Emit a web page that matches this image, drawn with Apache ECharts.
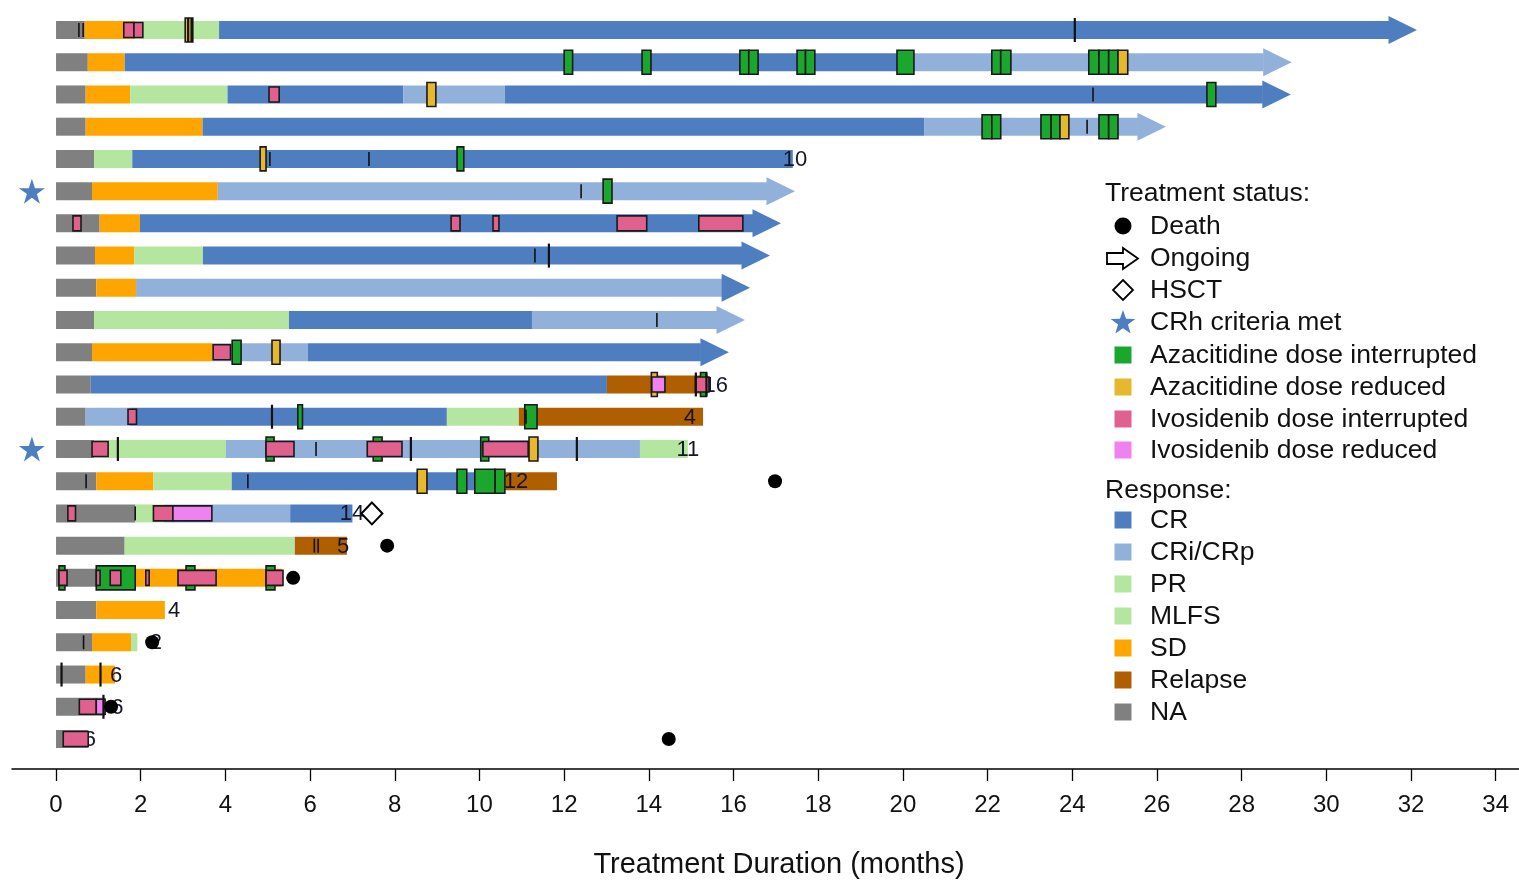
<!DOCTYPE html>
<html>
<head>
<meta charset="utf-8">
<title>Treatment Duration swimmer plot</title>
<script src="https://cdn.jsdelivr.net/npm/echarts@6/dist/echarts.min.js"></script>
<style>
  html, body { margin: 0; padding: 0; background: #ffffff; }
  #chart { width: 1519px; height: 880px; }
</style>
</head>
<body>
<div id="chart"></div>
<script>
// ---- Data (months on treatment; rows numbered top to bottom) ----
const xTickValues = [0, 2, 4, 6, 8, 10, 12, 14, 16, 18, 20, 22, 24, 26, 28, 30, 32, 34];

// [row, start, end, response]
const responseSegments = [
  [1, 0, 0.68, 'NA'], [1, 0.68, 1.84, 'SD'], [1, 1.84, 3.85, 'PR'], [1, 3.85, 31.48, 'CR'],
  [2, 0, 0.75, 'NA'], [2, 0.75, 1.62, 'SD'], [2, 1.62, 20.28, 'CR'], [2, 20.28, 28.52, 'CRi/CRp'],
  [3, 0, 0.7, 'NA'], [3, 0.7, 1.75, 'SD'], [3, 1.75, 4.05, 'PR'], [3, 4.05, 8.2, 'CR'], [3, 8.2, 10.6, 'CRi/CRp'], [3, 10.6, 28.5, 'CR'],
  [4, 0, 0.7, 'NA'], [4, 0.7, 3.46, 'SD'], [4, 3.46, 20.5, 'CR'], [4, 20.5, 25.55, 'CRi/CRp'],
  [5, 0, 0.9, 'NA'], [5, 0.9, 1.8, 'PR'], [5, 1.8, 17.4, 'CR'],
  [6, 0, 0.85, 'NA'], [6, 0.85, 3.82, 'SD'], [6, 3.82, 16.79, 'CRi/CRp'],
  [7, 0, 1.03, 'NA'], [7, 1.03, 1.98, 'SD'], [7, 1.98, 16.46, 'CR'],
  [8, 0, 0.92, 'NA'], [8, 0.92, 1.85, 'SD'], [8, 1.85, 3.47, 'PR'], [8, 3.47, 16.2, 'CR'],
  [9, 0, 0.95, 'NA'], [9, 0.95, 1.89, 'SD'], [9, 1.89, 15.73, 'CRi/CRp'],
  [10, 0, 0.9, 'NA'], [10, 0.9, 5.5, 'MLFS'], [10, 5.5, 11.24, 'CR'], [10, 11.24, 15.61, 'CRi/CRp'],
  [11, 0, 0.85, 'NA'], [11, 0.85, 3.7, 'SD'], [11, 3.7, 5.95, 'CRi/CRp'], [11, 5.95, 15.23, 'CR'],
  [12, 0, 0.82, 'NA'], [12, 0.82, 13.01, 'CR'], [12, 13.01, 15.4, 'Relapse'],
  [13, 0, 0.7, 'NA'], [13, 0.7, 1.73, 'CRi/CRp'], [13, 1.73, 9.23, 'CR'], [13, 9.23, 10.93, 'PR'], [13, 10.93, 15.28, 'Relapse'],
  [14, 0, 0.9, 'NA'], [14, 0.9, 4.01, 'PR'], [14, 4.01, 13.79, 'CRi/CRp'], [14, 13.79, 14.92, 'PR'],
  [15, 0, 0.95, 'NA'], [15, 0.95, 2.3, 'SD'], [15, 2.3, 4.15, 'PR'], [15, 4.15, 10.6, 'CR'], [15, 10.6, 11.83, 'Relapse'],
  [16, 0, 1.87, 'NA'], [16, 1.87, 2.55, 'MLFS'], [16, 2.55, 5.53, 'CRi/CRp'], [16, 5.53, 7.0, 'CR'],
  [17, 0, 1.62, 'NA'], [17, 1.62, 5.64, 'PR'], [17, 5.64, 6.87, 'Relapse'],
  [18, 0, 0.95, 'NA'], [18, 0.95, 5.33, 'SD'],
  [19, 0, 0.95, 'NA'], [19, 0.95, 2.57, 'SD'],
  [20, 0, 0.85, 'NA'], [20, 0.85, 1.77, 'SD'], [20, 1.77, 1.92, 'PR'],
  [21, 0, 0.7, 'NA'], [21, 0.7, 1.39, 'SD'],
  [22, 0, 1.16, 'NA'],
  [23, 0, 0.76, 'NA']
];

// Ongoing treatment: [row, end of bar, response shown by the arrow head]
const ongoing = [
  [1, 31.48, 'CR'], [2, 28.52, 'CRi/CRp'], [3, 28.5, 'CR'], [4, 25.55, 'CRi/CRp'],
  [6, 16.79, 'CRi/CRp'], [7, 16.46, 'CR'], [8, 16.2, 'CR'], [9, 15.73, 'CR'],
  [10, 15.61, 'CRi/CRp'], [11, 15.23, 'CR']
];

// Azacitidine dose changes: [row, start, end, kind]
const azacitidineEvents = [
  [1, 3.05, 3.23, 'reduced'],
  [2, 12.0, 12.2, 'interrupted'], [2, 13.84, 14.05, 'interrupted'], [2, 16.15, 16.36, 'interrupted'],
  [2, 16.36, 16.58, 'interrupted'], [2, 17.5, 17.7, 'interrupted'], [2, 17.7, 17.92, 'interrupted'],
  [2, 19.86, 20.26, 'interrupted'], [2, 22.1, 22.31, 'interrupted'], [2, 22.31, 22.55, 'interrupted'],
  [2, 24.39, 24.63, 'interrupted'], [2, 24.63, 24.86, 'interrupted'], [2, 24.86, 25.08, 'interrupted'],
  [2, 25.08, 25.31, 'reduced'],
  [3, 8.76, 8.97, 'reduced'], [3, 27.18, 27.39, 'interrupted'],
  [4, 21.87, 22.1, 'interrupted'], [4, 22.1, 22.31, 'interrupted'], [4, 23.26, 23.5, 'interrupted'],
  [4, 23.5, 23.71, 'interrupted'], [4, 23.71, 23.92, 'reduced'], [4, 24.63, 24.86, 'interrupted'],
  [4, 24.86, 25.08, 'interrupted'],
  [5, 4.82, 4.96, 'reduced'], [5, 9.47, 9.63, 'interrupted'],
  [6, 12.92, 13.13, 'interrupted'],
  [11, 4.16, 4.37, 'interrupted'], [11, 5.1, 5.29, 'reduced'],
  [12, 14.06, 14.2, 'reduced'], [12, 15.22, 15.36, 'interrupted'],
  [13, 5.71, 5.82, 'interrupted'], [13, 11.07, 11.36, 'interrupted'],
  [14, 4.96, 5.15, 'interrupted'], [14, 7.49, 7.7, 'interrupted'], [14, 10.03, 10.22, 'interrupted'],
  [14, 11.17, 11.38, 'reduced'],
  [15, 8.53, 8.76, 'reduced'], [15, 9.47, 9.7, 'interrupted'], [15, 9.89, 10.37, 'interrupted'],
  [15, 10.37, 10.6, 'interrupted'],
  [18, 0.07, 0.21, 'interrupted'], [18, 0.95, 1.87, 'interrupted'], [18, 3.07, 3.28, 'interrupted'],
  [18, 4.96, 5.17, 'interrupted']
];

// Ivosidenib dose changes: [row, start, end, kind]
const ivosidenibEvents = [
  [1, 1.6, 1.84, 'interrupted'], [1, 1.84, 2.05, 'interrupted'],
  [3, 5.03, 5.27, 'interrupted'],
  [7, 0.4, 0.59, 'interrupted'], [7, 9.33, 9.54, 'interrupted'], [7, 10.32, 10.46, 'interrupted'],
  [7, 13.25, 13.95, 'interrupted'], [7, 15.18, 16.22, 'interrupted'],
  [11, 3.71, 4.12, 'interrupted'],
  [12, 14.07, 14.38, 'reduced'], [12, 15.1, 15.42, 'interrupted'],
  [13, 1.7, 1.9, 'interrupted'],
  [14, 0.85, 1.23, 'interrupted'], [14, 4.96, 5.62, 'interrupted'], [14, 7.35, 8.17, 'interrupted'],
  [14, 10.08, 11.15, 'interrupted'],
  [16, 0.28, 0.46, 'interrupted'], [16, 2.3, 2.76, 'interrupted'], [16, 2.76, 3.68, 'reduced'],
  [18, 0.07, 0.26, 'interrupted'], [18, 0.95, 1.04, 'interrupted'], [18, 1.28, 1.53, 'interrupted'],
  [18, 2.12, 2.2, 'interrupted'], [18, 2.88, 3.78, 'interrupted'], [18, 4.96, 5.36, 'interrupted'],
  [22, 0.55, 0.95, 'interrupted'], [22, 0.95, 1.16, 'reduced'],
  [23, 0.17, 0.76, 'interrupted']
];

// Vertical event ticks: [row, month, 'long' | 'short']
const eventTicks = [
  [1, 0.54, 'short'], [1, 0.64, 'short'], [1, 3.12, 'long'], [1, 3.2, 'long'], [1, 24.06, 'long'],
  [3, 24.49, 'short'], [4, 24.35, 'short'],
  [5, 5.05, 'short'], [5, 7.39, 'short'],
  [6, 12.4, 'short'],
  [8, 11.31, 'short'], [8, 11.64, 'long'],
  [10, 14.19, 'short'],
  [12, 15.11, 'long'], [12, 15.36, 'long'],
  [13, 5.1, 'long'], [13, 11.1, 'short'],
  [14, 1.46, 'long'], [14, 6.14, 'short'], [14, 8.38, 'long'], [14, 12.3, 'long'],
  [15, 0.71, 'short'], [15, 4.53, 'short'],
  [16, 1.87, 'short'],
  [17, 6.1, 'short'], [17, 6.19, 'short'],
  [20, 0.65, 'short'],
  [21, 0.13, 'long'], [21, 1.05, 'long'],
  [22, 1.12, 'long']
];

// Death: [month, row]
const deaths = [[16.98, 15], [7.82, 17], [5.6, 18], [2.27, 20], [1.3, 22], [14.47, 23]];
// HSCT: [month, row]
const hsct = [[7.46, 16]];
// Rows meeting CRh criteria
const crhRows = [6, 14];
// Numbers written at the end of bars: [row, month, text]
const endLabels = [
  [5, 17.45, '10'], [12, 15.58, '16'], [13, 14.97, '4'], [14, 14.92, '11'], [15, 10.86, '12'],
  [16, 6.99, '14'], [17, 6.78, '5'], [19, 2.79, '4'], [20, 2.36, '2'], [21, 1.42, '6'],
  [22, 1.45, '6'], [23, 0.8, '6']
];

// ---- Styles ----
const responseColors = {
  'CR': '#4e7ec0',
  'CRi/CRp': '#92b1da',
  'PR': '#b4e6a0',
  'MLFS': '#b4e6a0',
  'SD': '#ffa500',
  'Relapse': '#b05f00',
  'NA': '#808080'
};
const azaColors = { interrupted: '#1ba72e', reduced: '#e6b82e' };
const ivoColors = { interrupted: '#e0608e', reduced: '#ee82ee' };
const STAR_BLUE = '#4e7ec0';
const FONT = '"Liberation Sans", Arial, Helvetica, sans-serif';
const BAR_H = 18, AZA_H = 24, IVO_H = 15, TICK_LONG = 24, TICK_SHORT = 14;
const HEAD_LEN = 28, HEAD_H = 28;
const STAR_X = -0.57;
const STAR_PATH = 'path://M50,2 L61.2,36.2 L97.6,36.2 L68.2,57.6 L79.4,91.8 L50,70.6 L20.6,91.8 L31.8,57.6 L2.4,36.2 L38.8,36.2 Z';

// Five-pointed star outline centred on (cx, cy)
function starPoints(cx, cy, rOuter, rInner) {
  const pts = [];
  for (let i = 0; i < 10; i++) {
    const r = i % 2 === 0 ? rOuter : rInner;
    const ang = -Math.PI / 2 + i * Math.PI / 5;
    pts.push([cx + r * Math.cos(ang), cy + r * Math.sin(ang)]);
  }
  return pts;
}

function segRender(params, api) {
  const d = responseSegments[params.dataIndex];
  const a = api.coord([d[1], d[0]]);
  const b = api.coord([d[2], d[0]]);
  return {
    type: 'rect',
    shape: { x: a[0], y: a[1] - BAR_H / 2, width: b[0] - a[0], height: BAR_H },
    style: { fill: responseColors[d[3]] }
  };
}

function arrowRender(params, api) {
  const d = ongoing[params.dataIndex];
  const p = api.coord([d[1], d[0]]);
  return {
    type: 'polygon',
    shape: { points: [[p[0] - 0.5, p[1] - HEAD_H / 2], [p[0] + HEAD_LEN, p[1]], [p[0] - 0.5, p[1] + HEAD_H / 2]] },
    style: { fill: responseColors[d[2]] }
  };
}

function eventRender(list, colors, h) {
  return function (params, api) {
    const d = list[params.dataIndex];
    const a = api.coord([d[1], d[0]]);
    const b = api.coord([d[2], d[0]]);
    return {
      type: 'rect',
      shape: { x: a[0], y: a[1] - h / 2, width: b[0] - a[0], height: h },
      style: { fill: colors[d[3]], stroke: '#1a1a1a', lineWidth: 1.6 }
    };
  };
}

function tickRender(params, api) {
  const d = eventTicks[params.dataIndex];
  const p = api.coord([d[1], d[0]]);
  const h = d[2] === 'long' ? TICK_LONG : TICK_SHORT;
  return {
    type: 'line',
    shape: { x1: p[0], y1: p[1] - h / 2, x2: p[0], y2: p[1] + h / 2 },
    style: { stroke: '#111111', lineWidth: d[2] === 'long' ? 2.2 : 1.6 }
  };
}

function labelRender(params, api) {
  const d = endLabels[params.dataIndex];
  const p = api.coord([d[1], d[0]]);
  return {
    type: 'text',
    x: p[0], y: p[1] + 1,
    style: { text: d[2], fill: '#15152a', font: '22px ' + FONT, align: 'center', verticalAlign: 'middle' }
  };
}

const chart = echarts.init(document.getElementById('chart'), null, { renderer: 'canvas' });

// ---- Legend drawn as graphic elements ----
const LEG_SYM_X = 1123, LEG_TEXT_X = 1150;
const legendGraphics = [];
function legText(x, y, t) {
  legendGraphics.push({ type: 'text', x: x, y: y, style: { text: t, fill: '#111111', font: '26.5px ' + FONT, align: 'left', verticalAlign: 'middle' } });
}
function legSquare(y, color) {
  legendGraphics.push({ type: 'rect', shape: { x: LEG_SYM_X - 8.5, y: y - 8.5, width: 17, height: 17 }, style: { fill: color } });
}
legText(1105, 194, 'Treatment status:');
legendGraphics.push({ type: 'circle', shape: { cx: LEG_SYM_X, cy: 226, r: 8.5 }, style: { fill: '#000000' } });
legText(LEG_TEXT_X, 227, 'Death');
legendGraphics.push({
  type: 'polygon',
  shape: { points: [[1107, 253], [1123, 253], [1123, 248], [1138, 258.5], [1123, 269], [1123, 264], [1107, 264]] },
  style: { fill: '#ffffff', stroke: '#000000', lineWidth: 1.8 }
});
legText(LEG_TEXT_X, 259, 'Ongoing');
legendGraphics.push({
  type: 'polygon',
  shape: { points: [[LEG_SYM_X, 280], [LEG_SYM_X + 10, 290], [LEG_SYM_X, 300], [LEG_SYM_X - 10, 290]] },
  style: { fill: '#ffffff', stroke: '#000000', lineWidth: 1.8 }
});
legText(LEG_TEXT_X, 291, 'HSCT');
legendGraphics.push({
  type: 'polygon',
  shape: { points: starPoints(LEG_SYM_X, 323, 13, 5.2) },
  style: { fill: STAR_BLUE }
});
legText(LEG_TEXT_X, 323, 'CRh criteria met');
const statusItems = [
  [355, azaColors.interrupted, 'Azacitidine dose interrupted'],
  [387, azaColors.reduced, 'Azacitidine dose reduced'],
  [419, ivoColors.interrupted, 'Ivosidenib dose interrupted'],
  [450, ivoColors.reduced, 'Ivosidenib dose reduced']
];
statusItems.forEach(function (it) { legSquare(it[0], it[1]); legText(LEG_TEXT_X, it[0] + 0.5, it[2]); });
legText(1105, 491, 'Response:');
const responseItems = [
  [520, 'CR', 'CR'], [552, 'CRi/CRp', 'CRi/CRp'], [584, 'PR', 'PR'], [616, 'MLFS', 'MLFS'],
  [648, 'SD', 'SD'], [680, 'Relapse', 'Relapse'], [712, 'NA', 'NA']
];
responseItems.forEach(function (it) { legSquare(it[0], responseColors[it[1]]); legText(LEG_TEXT_X, it[0] + 0.5, it[2]); });

// Axis title
legendGraphics.push({
  type: 'text', x: 779, y: 865,
  style: { text: 'Treatment Duration (months)', fill: '#111111', font: '29px ' + FONT, align: 'center', verticalAlign: 'middle' }
});

const option = {
  animation: false,
  backgroundColor: '#ffffff',
  grid: { left: 12, right: 0, top: 0, bottom: 111, containLabel: false },
  xAxis: {
    type: 'value',
    min: -1.04,
    max: 34.55,
    splitLine: { show: false },
    axisLine: { show: true, onZero: false, lineStyle: { color: '#000000', width: 1.5 } },
    axisTick: { show: true, length: 12, lineStyle: { color: '#000000', width: 1.3 }, customValues: xTickValues },
    axisLabel: { color: '#111111', fontSize: 24, fontFamily: FONT, margin: 24, customValues: xTickValues }
  },
  yAxis: {
    type: 'value',
    inverse: true,
    min: 0.069,
    max: 23.931,
    show: false
  },
  graphic: legendGraphics,
  series: [
    {
      type: 'custom', name: 'Response', renderItem: segRender, clip: false, z: 2,
      encode: { x: [1, 2], y: 0 },
      data: responseSegments.map(function (d) { return [d[0], d[1], d[2]]; })
    },
    {
      type: 'custom', name: 'Ongoing', renderItem: arrowRender, clip: false, z: 3,
      encode: { x: 1, y: 0 },
      data: ongoing.map(function (d) { return [d[0], d[1]]; })
    },
    {
      type: 'custom', name: 'Labels', renderItem: labelRender, clip: false, z: 4,
      encode: { x: 1, y: 0 },
      data: endLabels.map(function (d) { return [d[0], d[1]]; })
    },
    {
      type: 'custom', name: 'Azacitidine', renderItem: eventRender(azacitidineEvents, azaColors, AZA_H), clip: false, z: 5,
      encode: { x: [1, 2], y: 0 },
      data: azacitidineEvents.map(function (d) { return [d[0], d[1], d[2]]; })
    },
    {
      type: 'custom', name: 'Ivosidenib', renderItem: eventRender(ivosidenibEvents, ivoColors, IVO_H), clip: false, z: 6,
      encode: { x: [1, 2], y: 0 },
      data: ivosidenibEvents.map(function (d) { return [d[0], d[1], d[2]]; })
    },
    {
      type: 'custom', name: 'Ticks', renderItem: tickRender, clip: false, z: 7,
      encode: { x: 1, y: 0 },
      data: eventTicks.map(function (d) { return [d[0], d[1]]; })
    },
    {
      type: 'scatter', name: 'Death', z: 8, symbol: 'circle', symbolSize: 14,
      itemStyle: { color: '#000000', opacity: 1 }, data: deaths
    },
    {
      type: 'scatter', name: 'HSCT', z: 8, symbol: 'diamond', symbolSize: [21, 22],
      itemStyle: { color: '#ffffff', borderColor: '#000000', borderWidth: 2, opacity: 1 }, data: hsct
    },
    {
      type: 'scatter', name: 'CRh criteria met', z: 8, symbol: STAR_PATH, symbolSize: [26, 25],
      itemStyle: { color: STAR_BLUE, opacity: 1 }, data: crhRows.map(function (r) { return [STAR_X, r]; })
    }
  ]
};

chart.setOption(option);
</script>
</body>
</html>
